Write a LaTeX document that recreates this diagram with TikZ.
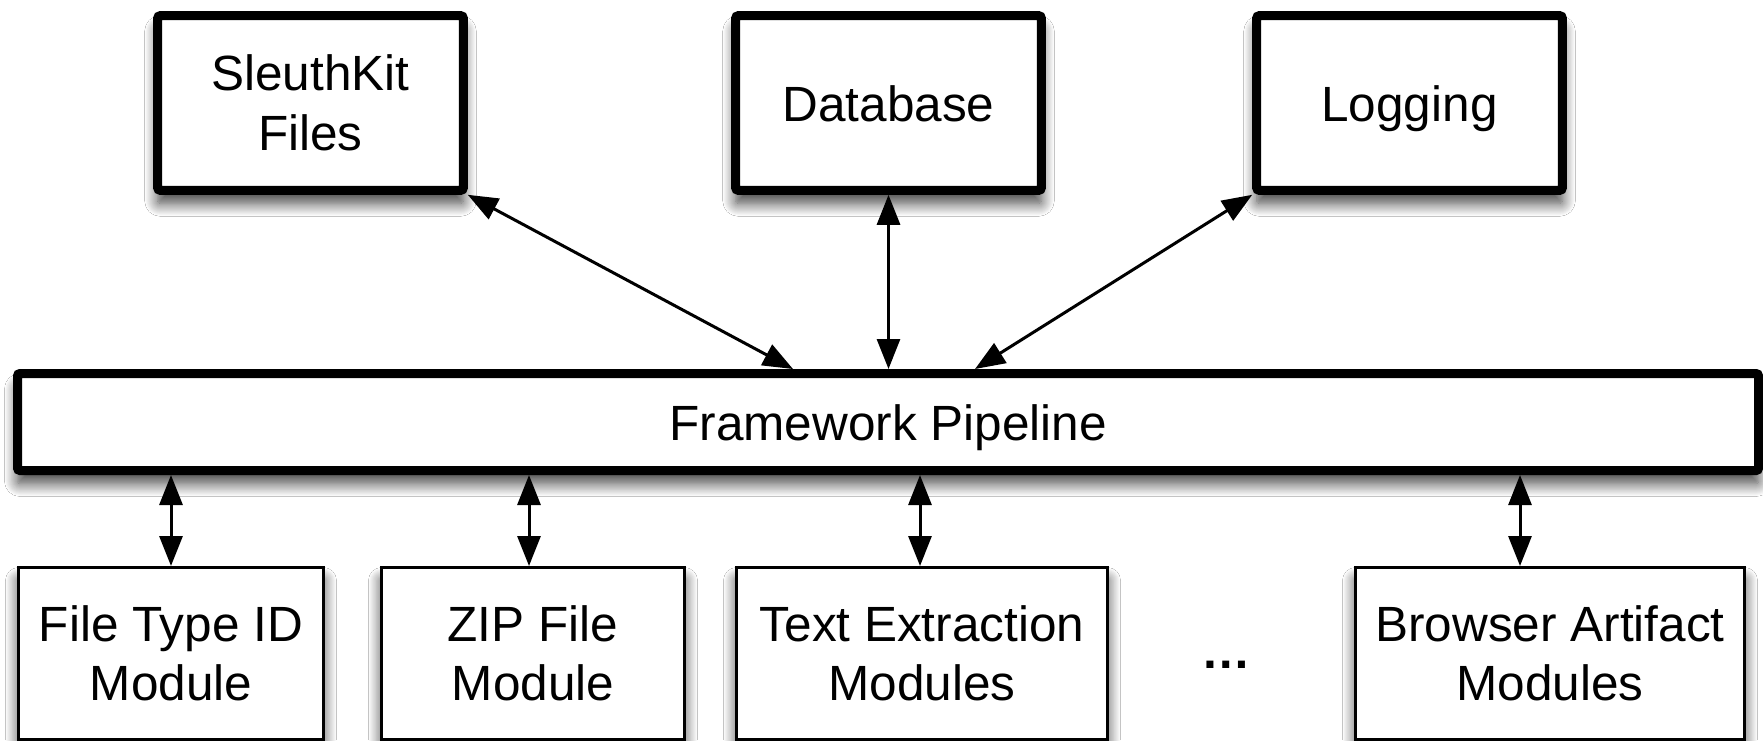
\documentclass[tikz,border=0pt]{standalone}
\usepackage{fontspec}
\setmainfont{Liberation Sans}
\usetikzlibrary{arrows.meta,shadows.blur,calc}

\tikzset{
  soft/.style={blur shadow={shadow xshift=0pt, shadow yshift=-13pt,
      shadow blur radius=13pt, shadow blur steps=14, shadow opacity=75}},
  heavybox/.style={draw=black, line width=9pt, rounded corners=2.5pt, fill=white,
      align=center, inner sep=0pt, soft},
  modbox/.style={draw=black, line width=3pt, fill=white, align=center,
      inner sep=0pt, soft},
  link/.style={line width=3pt, {Triangle[length=30pt,width=23pt]}-{Triangle[length=30pt,width=23pt]}},
  txt/.style={font=\fontsize{49.5}{59.4}\selectfont},
  oneline/.style={text height=36pt, text depth=0pt}
}

\begin{document}
\begin{tikzpicture}[x=1pt,y=-1pt]
\useasboundingbox (0,0) rectangle (1763,740);
\fill[white] (0,0) rectangle (1763,740);

% top services
\node[heavybox, txt, minimum width=305.6pt, minimum height=174.6pt] (sk) at (310.5,103) {SleuthKit\\Files};
\node[heavybox, txt, oneline, minimum width=305.6pt, minimum height=174.6pt] (db) at (888.5,103) {Database};
\node[heavybox, txt, oneline, minimum width=305.6pt, minimum height=174.6pt] (lg) at (1409.5,103) {Logging};

% pipeline bar
\node[heavybox, txt, oneline, minimum width=1741pt, minimum height=97pt] (pipe) at (888,422) {Framework Pipeline};

% modules
\node[modbox, txt, minimum width=305pt, minimum height=172pt] (ft) at (171,653.5) {File Type ID\\Module};
\node[modbox, txt, minimum width=303pt, minimum height=172pt] (zip) at (533,653.5) {ZIP File\\Module};
\node[modbox, txt, minimum width=371pt, minimum height=172pt] (te) at (922,653.5) {Text Extraction\\Modules};
\node[modbox, txt, minimum width=389pt, minimum height=172pt] (br) at (1550,653.5) {Browser Artifact\\Modules};
\node[txt, inner sep=0pt, anchor=base, font=\fontsize{49.5}{59.4}\selectfont\bfseries] (more) at (1226,668) {…};

% connectors between services and the pipeline
\draw[link] (sk.south east) -- (793,0 |- pipe.north);
\draw[link] (db.south) -- (db.south |- pipe.north);
\draw[link] (lg.south west) -- (975,0 |- pipe.north);

% connectors between the pipeline and the modules
\draw[link] (ft.north |- pipe.south) -- (ft.north);
\draw[link] (529,0 |- pipe.south) -- (529,0 |- zip.north);
\draw[link] (920,0 |- pipe.south) -- (920,0 |- te.north);
\draw[link] (1520,0 |- pipe.south) -- (1520,0 |- br.north);
\end{tikzpicture}
\end{document}
